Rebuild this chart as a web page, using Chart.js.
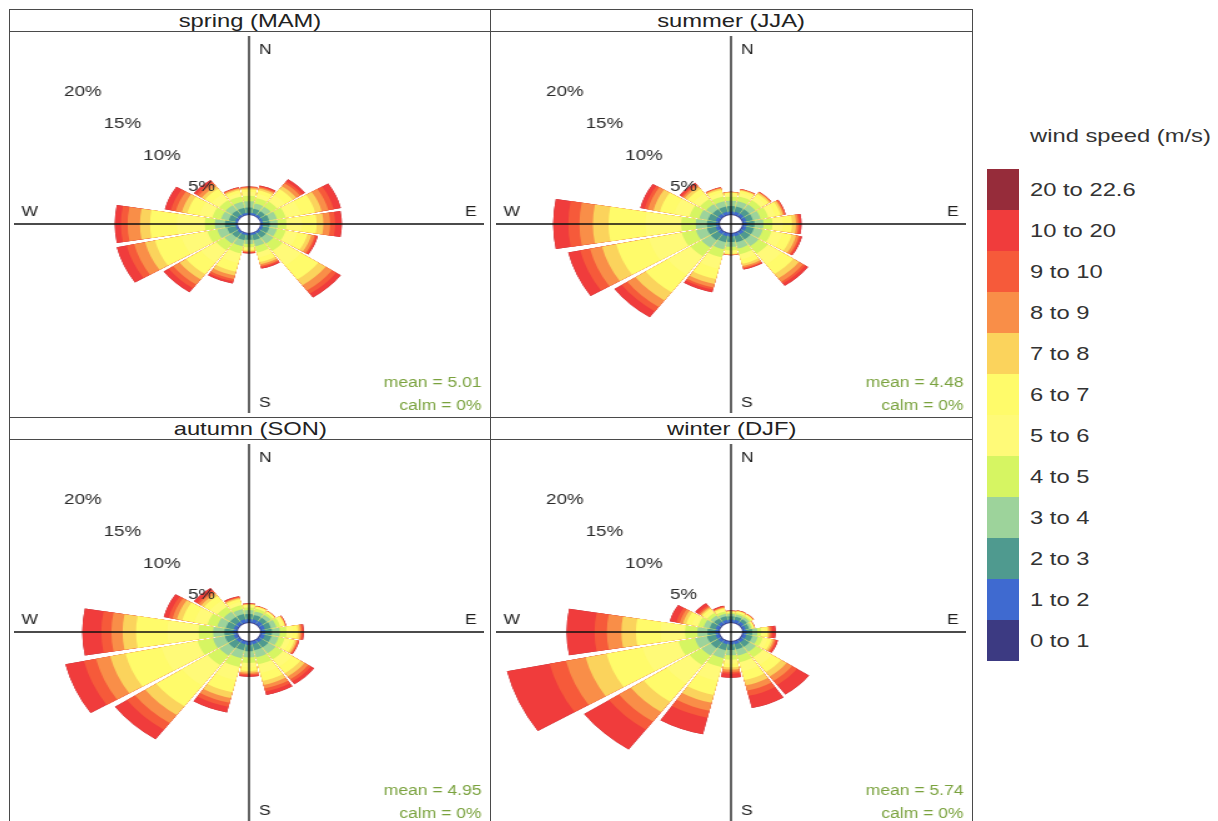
<!DOCTYPE html>
<html>
<head>
<meta charset="utf-8">
<title>Seasonal wind roses</title>
<script src="https://cdn.jsdelivr.net/npm/chart.js@4.4.1/dist/chart.umd.min.js"></script>
<style>
  body {
    margin: 0;
    width: 1218px;
    height: 821px;
    overflow: hidden;
    position: relative;
    background: #fff;
    font-family: "Liberation Sans", Arial, sans-serif;
    color: #222;
  }
  .panel { position: absolute; box-sizing: border-box; border: 1px solid #4a4a4a; }
  .strip {
    position: absolute; left: 0; right: 0; top: 0; height: 22px;
    box-sizing: border-box; border-bottom: 1px solid #4a4a4a;
    text-align: center; font-size: 19px; line-height: 22px; overflow: hidden;
  }
  .stretch { display: inline-block; transform: scaleX(1.25); }
  .stretch-left { display: inline-block; transform: scaleX(1.25); transform-origin: left center; }
  canvas { position: absolute; }
  .key-box { position: absolute; left: 987px; width: 32px; }
  .key-label { position: absolute; left: 1030px; font-size: 19px; line-height: 41px; color: #333; white-space: nowrap; }
</style>
</head>
<body>

<div class="panel" style="left:9px;top:9px;width:482px;height:409px"><div class="strip"><span class="stretch">spring (MAM)</span></div></div>
<div class="panel" style="left:490px;top:9px;width:483px;height:409px"><div class="strip"><span class="stretch">summer (JJA)</span></div></div>
<div class="panel" style="left:9px;top:417px;width:482px;height:410px"><div class="strip"><span class="stretch">autumn (SON)</span></div></div>
<div class="panel" style="left:490px;top:417px;width:483px;height:410px"><div class="strip"><span class="stretch">winter (DJF)</span></div></div>

<canvas id="spring-chart" width="376" height="377" style="left:14px;top:36px;width:470px;height:377px"></canvas>
<canvas id="summer-chart" width="376" height="377" style="left:496px;top:36px;width:470px;height:377px"></canvas>
<canvas id="autumn-chart" width="376" height="377" style="left:14px;top:444px;width:470px;height:377px"></canvas>
<canvas id="winter-chart" width="376" height="377" style="left:496px;top:444px;width:470px;height:377px"></canvas>

<div class="key-label" style="top:115px;line-height:41px"><span class="stretch-left">wind speed (m/s)</span></div>
<div id="key"></div>

<script>
const directions = ['N', 'NNE', 'NE', 'ENE', 'E', 'ESE', 'SE', 'SSE', 'S', 'SSW', 'SW', 'WSW', 'W', 'WNW', 'NW', 'NNW'];
const speedBins = ['0 to 1', '1 to 2', '2 to 3', '3 to 4', '4 to 5', '5 to 6', '6 to 7', '7 to 8', '8 to 9', '9 to 10', '10 to 20', '20 to 22.6'];
const binColours = ['#3c3a82', '#3f6ad0', '#4f9a8f', '#9dd39b', '#d6f562', '#fffa78', '#fffb6a', '#fbd35c', '#f98e48', '#f65a3a', '#f03c3c', '#962c3a'];
const gridTicks = [5, 10, 15, 20];

// % of hours, one row per speed bin, one column per direction (N ... NNW)
const springFreq = [
    [0.05, 0.05, 0.05, 0.05, 0.05, 0.05, 0.05, 0.05, 0.05, 0.05, 0.05, 0.05, 0.05, 0.05, 0.05, 0.05],
    [0.2, 0.2, 0.2, 0.2, 0.2, 0.2, 0.2, 0.2, 0.2, 0.2, 0.2, 0.15, 0.15, 0.2, 0.2, 0.2],
    [0.6, 0.5, 0.5, 0.6, 0.6, 0.6, 0.6, 0.6, 0.5, 0.6, 0.6, 0.8, 0.95, 0.6, 0.6, 0.6],
    [0.7, 0.6, 0.6, 0.7, 0.7, 0.7, 0.8, 0.7, 0.5, 0.7, 0.8, 0.9, 0.9, 0.7, 0.7, 0.7],
    [0.6, 0.6, 0.7, 0.8, 0.8, 0.8, 1.0, 0.7, 0.35, 0.8, 0.9, 0.9, 0.9, 0.8, 0.7, 0.6],
    [0.45, 0.5, 0.9, 1.4, 1.4, 1.1, 2.0, 0.6, 0.2, 1.1, 1.7, 2.4, 2.5, 1.2, 0.85, 0.4],
    [0.25, 0.4, 0.8, 1.3, 1.3, 0.9, 1.9, 0.5, 0.15, 1.0, 1.6, 2.4, 2.4, 1.1, 0.7, 0.3],
    [0.15, 0.2, 0.4, 0.6, 0.6, 0.35, 0.8, 0.25, 0.1, 0.45, 0.7, 0.9, 0.9, 0.5, 0.35, 0.15],
    [0.1, 0.15, 0.4, 0.6, 0.6, 0.3, 0.7, 0.2, 0.1, 0.4, 0.7, 1.0, 1.1, 0.55, 0.35, 0.1],
    [0.05, 0.1, 0.25, 0.5, 0.45, 0.15, 0.45, 0.15, 0.05, 0.25, 0.5, 0.7, 0.6, 0.45, 0.25, 0.05],
    [0.05, 0.1, 0.3, 0.65, 0.6, 0.15, 0.5, 0.15, 0.1, 0.25, 0.55, 0.9, 0.55, 0.55, 0.25, 0.05],
    [0, 0, 0, 0, 0, 0, 0, 0, 0, 0, 0, 0, 0, 0, 0, 0]
];

const summerFreq = [
    [0.1, 0.1, 0.1, 0.1, 0.1, 0.1, 0.1, 0.1, 0.1, 0.1, 0.1, 0.1, 0.1, 0.1, 0.1, 0.1],
    [0.3, 0.3, 0.3, 0.3, 0.3, 0.3, 0.3, 0.3, 0.3, 0.3, 0.3, 0.3, 0.25, 0.3, 0.3, 0.3],
    [0.6, 0.6, 0.6, 0.6, 0.7, 0.7, 0.7, 0.7, 0.6, 0.7, 0.8, 0.8, 0.8, 0.7, 0.6, 0.6],
    [0.6, 0.6, 0.65, 0.7, 0.8, 0.8, 0.9, 0.7, 0.55, 0.8, 1.0, 1.0, 1.0, 0.8, 0.7, 0.6],
    [0.45, 0.55, 0.6, 0.7, 0.8, 0.8, 1.0, 0.65, 0.4, 0.9, 1.2, 1.3, 1.3, 0.9, 0.7, 0.55],
    [0.3, 0.4, 0.5, 0.65, 0.95, 1.0, 1.5, 0.6, 0.25, 1.3, 2.5, 3.0, 3.2, 1.4, 0.75, 0.45],
    [0.15, 0.25, 0.35, 0.5, 0.8, 0.85, 1.3, 0.5, 0.15, 1.2, 2.4, 3.0, 3.3, 1.3, 0.6, 0.3],
    [0.05, 0.1, 0.15, 0.2, 0.35, 0.4, 0.6, 0.25, 0.06, 0.55, 1.1, 1.3, 1.4, 0.6, 0.3, 0.15],
    [0.03, 0.05, 0.08, 0.12, 0.2, 0.25, 0.45, 0.2, 0.04, 0.4, 0.9, 1.1, 1.2, 0.5, 0.2, 0.08],
    [0.02, 0.03, 0.04, 0.08, 0.15, 0.15, 0.25, 0.1, 0.03, 0.25, 0.6, 0.9, 1.0, 0.3, 0.15, 0.04],
    [0, 0.02, 0.03, 0.05, 0.15, 0.15, 0.3, 0.1, 0.02, 0.3, 0.8, 1.1, 1.35, 0.4, 0.2, 0.03],
    [0, 0, 0, 0, 0, 0, 0, 0, 0, 0, 0, 0, 0, 0, 0, 0]
];

const autumnFreq = [
    [0.1, 0.1, 0.1, 0.1, 0.1, 0.1, 0.1, 0.1, 0.1, 0.1, 0.1, 0.1, 0.1, 0.1, 0.1, 0.1],
    [0.35, 0.35, 0.35, 0.35, 0.35, 0.35, 0.3, 0.3, 0.35, 0.3, 0.3, 0.3, 0.3, 0.3, 0.3, 0.35],
    [0.55, 0.5, 0.5, 0.55, 0.6, 0.6, 0.7, 0.7, 0.7, 0.7, 0.8, 0.8, 0.8, 0.7, 0.65, 0.6],
    [0.45, 0.4, 0.4, 0.5, 0.7, 0.65, 0.8, 0.8, 0.7, 0.9, 1.0, 1.1, 1.0, 0.8, 0.7, 0.55],
    [0.3, 0.3, 0.25, 0.35, 0.6, 0.55, 0.8, 0.8, 0.6, 1.0, 1.3, 1.4, 1.3, 0.9, 0.7, 0.45],
    [0.2, 0.15, 0.13, 0.25, 0.55, 0.5, 1.0, 1.0, 0.5, 1.5, 2.8, 3.3, 2.8, 1.2, 0.8, 0.4],
    [0.1, 0.08, 0.07, 0.15, 0.45, 0.4, 0.9, 0.9, 0.4, 1.4, 2.8, 3.3, 2.8, 1.1, 0.65, 0.3],
    [0.05, 0.04, 0.04, 0.05, 0.2, 0.18, 0.45, 0.45, 0.2, 0.65, 1.2, 1.4, 1.2, 0.5, 0.3, 0.12],
    [0.04, 0.03, 0.02, 0.04, 0.15, 0.12, 0.4, 0.4, 0.15, 0.55, 1.1, 1.3, 1.0, 0.4, 0.25, 0.08],
    [0.03, 0.02, 0.02, 0.03, 0.1, 0.08, 0.3, 0.35, 0.15, 0.45, 0.9, 1.1, 0.9, 0.35, 0.2, 0.07],
    [0.03, 0.03, 0.02, 0.03, 0.1, 0.07, 0.35, 0.4, 0.15, 0.65, 1.3, 1.7, 1.7, 0.45, 0.35, 0.08],
    [0, 0, 0, 0, 0, 0, 0, 0, 0, 0, 0, 0, 0, 0, 0, 0]
];

const winterFreq = [
    [0.1, 0.1, 0.1, 0.1, 0.1, 0.1, 0.1, 0.1, 0.1, 0.1, 0.1, 0.1, 0.1, 0.1, 0.1, 0.1],
    [0.3, 0.3, 0.3, 0.25, 0.3, 0.3, 0.3, 0.3, 0.3, 0.3, 0.3, 0.3, 0.3, 0.3, 0.3, 0.3],
    [0.35, 0.35, 0.35, 0.3, 0.5, 0.55, 0.6, 0.6, 0.6, 0.7, 0.8, 0.8, 0.7, 0.55, 0.45, 0.4],
    [0.25, 0.25, 0.25, 0.2, 0.45, 0.5, 0.7, 0.7, 0.6, 0.9, 1.0, 1.1, 0.9, 0.55, 0.4, 0.3],
    [0.15, 0.18, 0.18, 0.13, 0.35, 0.45, 0.75, 0.75, 0.5, 1.0, 1.3, 1.5, 1.1, 0.5, 0.35, 0.25],
    [0.1, 0.12, 0.12, 0.09, 0.3, 0.45, 1.0, 1.05, 0.45, 1.6, 2.5, 3.3, 2.2, 0.6, 0.3, 0.2],
    [0.05, 0.08, 0.08, 0.05, 0.25, 0.35, 1.0, 1.0, 0.4, 1.6, 2.5, 3.3, 2.2, 0.5, 0.25, 0.15],
    [0.03, 0.04, 0.04, 0.03, 0.15, 0.18, 0.6, 0.6, 0.25, 0.9, 1.4, 1.9, 1.3, 0.3, 0.15, 0.08],
    [0.03, 0.03, 0.03, 0.02, 0.15, 0.15, 0.6, 0.6, 0.25, 0.9, 1.3, 1.8, 1.3, 0.3, 0.15, 0.07],
    [0.02, 0.02, 0.02, 0.01, 0.15, 0.12, 0.55, 0.6, 0.2, 0.8, 1.1, 1.5, 1.1, 0.3, 0.15, 0.05],
    [0.02, 0.03, 0.03, 0.02, 0.3, 0.15, 1.3, 1.4, 0.45, 1.9, 2.7, 3.9, 2.5, 0.6, 0.3, 0.1],
    [0, 0, 0, 0, 0, 0, 0, 0, 0, 0, 0, 0, 0, 0, 0, 0]
];

const seasonMeans = ['5.01', '4.48', '4.95', '5.74'];
const seasonCalms = ['0%', '0%', '0%', '0%'];

// each 22.5 degree sector: a 90% wide petal then a thin empty gap
const PETAL_DEG = 20.25;
const GAP_DEG = 2.25;
const HOLE = 1;      // size of the empty hole in the middle, in % units
const AXIS_MAX = 20;

const sliceLabels = directions.flatMap(d => [d, '']);

function buildDatasets(freq)
{
    let running = directions.map(() => 0);
    let datasets = [];
    for( let b = 0; b < speedBins.length; b++ )
    {
        running = running.map( (v, i) => v + freq[b][i] );
        let data = [];
        running.forEach( v => data.push( v, null ) );
        // dataset 0 is painted last, so the slowest bin ends up on top
        datasets.push({
            label: speedBins[b],
            data: data,
            backgroundColor: binColours[b],
            borderWidth: 0,
            angle: ctx => ctx.dataIndex % 2 ? GAP_DEG : PETAL_DEG
        });
    }
    return datasets;
}

const roseDecor = {
    id: 'roseDecor',
    afterDatasetsDraw(chart, args, opts) {
        const ctx = chart.ctx;
        const r = chart.scales.r;
        const cx = r.xCenter, cy = r.yCenter, R = r.drawingArea;
        ctx.save();

        ctx.beginPath();
        ctx.arc( cx, cy, r.getDistanceFromCenterForValue(0), 0, Math.PI * 2 );
        ctx.fillStyle = '#fff';
        ctx.fill();

        ctx.strokeStyle = '#111';
        ctx.lineWidth = 1.3;
        ctx.beginPath();
        ctx.moveTo( cx, 0 );
        ctx.lineTo( cx, chart.height );
        ctx.moveTo( 0, cy );
        ctx.lineTo( chart.width, cy );
        ctx.stroke();

        ctx.font = '14px "Liberation Sans", Arial, sans-serif';
        ctx.fillStyle = '#222';
        ctx.textBaseline = 'middle';
        ctx.textAlign = 'left';
        ctx.fillText( 'N', cx + 8, cy - R + 14 );
        ctx.fillText( 'S', cx + 8, cy + R - 9 );
        ctx.fillText( 'W', cx - R + 6, cy - 12 );
        ctx.textAlign = 'right';
        ctx.fillText( 'E', cx + R - 6, cy - 12 );

        ctx.font = '15px "Liberation Sans", Arial, sans-serif';
        ctx.fillStyle = '#2a2a2a';
        ctx.textAlign = 'center';
        gridTicks.forEach( t => {
            const d = r.getDistanceFromCenterForValue(t) * Math.SQRT1_2;
            ctx.fillText( t + '%', cx - d, cy - d + 1 );
        });

        ctx.font = '14px "Liberation Sans", Arial, sans-serif';
        ctx.fillStyle = '#7aa23e';
        ctx.textAlign = 'right';
        ctx.fillText( 'mean = ' + opts.mean, chart.width - 2, cy + 159 );
        ctx.fillText( 'calm = ' + opts.calm, chart.width - 2, cy + 182 );
        ctx.restore();
    }
};

function drawRose(canvasId, freq, mean, calm)
{
    new Chart( document.getElementById(canvasId), {
        type: 'polarArea',
        data: {
            labels: sliceLabels,
            datasets: buildDatasets(freq)
        },
        options: {
            responsive: false,
            animation: false,
            events: [],
            layout: { padding: 0 },
            plugins: {
                legend: { display: false },
                tooltip: { enabled: false },
                roseDecor: { mean: mean, calm: calm }
            },
            scales: {
                r: {
                    min: -HOLE,
                    max: AXIS_MAX,
                    startAngle: -PETAL_DEG / 2,
                    grid: { display: false },
                    angleLines: { display: false },
                    pointLabels: { display: false },
                    ticks: { display: false }
                }
            }
        },
        plugins: [roseDecor]
    });
}

function drawKey()
{
    const key = document.getElementById('key');
    const n = speedBins.length;
    for( let i = 0; i < n; i++ )
    {
        const b = n - 1 - i;
        const top = 169 + i * 41;
        const box = document.createElement('div');
        box.className = 'key-box';
        box.style.top = top + 'px';
        box.style.height = '41px';
        box.style.background = binColours[b];
        key.appendChild(box);

        const label = document.createElement('div');
        label.className = 'key-label';
        label.style.top = top + 'px';
        label.innerHTML = '<span class="stretch-left">' + speedBins[b] + '</span>';
        key.appendChild(label);
    }
}

document.addEventListener('DOMContentLoaded', function(){
    drawRose( 'spring-chart', springFreq, seasonMeans[0], seasonCalms[0] );
    drawRose( 'summer-chart', summerFreq, seasonMeans[1], seasonCalms[1] );
    drawRose( 'autumn-chart', autumnFreq, seasonMeans[2], seasonCalms[2] );
    drawRose( 'winter-chart', winterFreq, seasonMeans[3], seasonCalms[3] );
    drawKey();
});
</script>
</body>
</html>
